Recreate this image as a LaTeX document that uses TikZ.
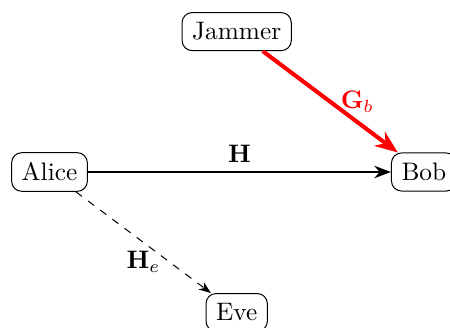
\documentclass[tikz,border=0pt]{standalone}
\usepackage{amsmath, amssymb}
\usetikzlibrary{arrows.meta, positioning, calc}
\tikzset{
  usernode/.style={rounded corners, draw, font=\normalsize, inner sep=4pt},
  mainlink/.style={-{Stealth}, thick},
  jamlink/.style={-{Stealth[length=9pt, width=7pt]}, red, ultra thick},
  eavlink/.style={-{Stealth}, dashed},
}

\begin{document}
\begin{tikzpicture}
  \useasboundingbox (-0.6875,-2.153) rectangle (5.5625,2.389);
  \node[usernode] (alice) at (0,0) {Alice};
  \node[usernode] (bob) at (5.2,0) {Bob};
  \node[usernode] (jam) at (2.6,1.95) {Jammer};
  \node[usernode] (eve) at (2.6,-1.95) {Eve};
  \draw[mainlink] (alice) -- node[above] {$\mathbf{H}$} (bob);
  \draw[jamlink] (jam) -- node[right, text=red] {$\mathbf{G}_b$} (bob);
  \draw[eavlink] (alice) -- node[below] {$\mathbf{H}_e$} (eve);
\end{tikzpicture}
\end{document}
